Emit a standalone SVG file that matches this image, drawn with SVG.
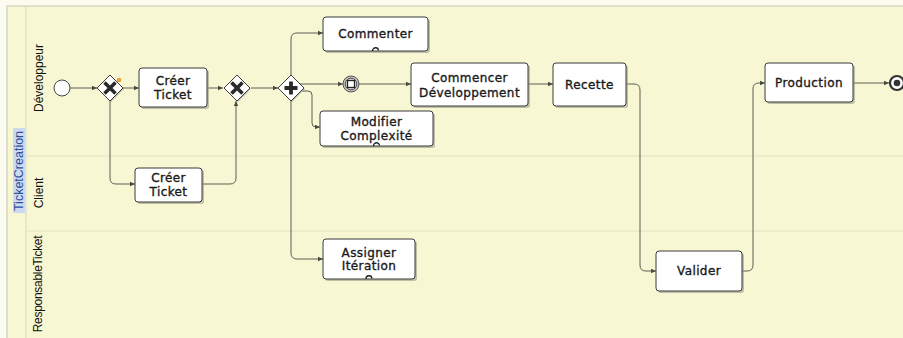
<svg xmlns="http://www.w3.org/2000/svg" width="903" height="338" viewBox="0 0 903 338">
<style>
.task{fill:#fff;stroke:#3a3a3a;stroke-width:1}
.shadow{fill:#9a9a88;opacity:0.6}
.tt{font-family:"DejaVu Sans",sans-serif;font-size:12px;fill:#1a1a1a;stroke:#1a1a1a;stroke-width:0.35;letter-spacing:0.4px;text-anchor:middle}
.lbl{font-family:"Liberation Sans",Arial,sans-serif;font-size:12px;fill:#111}
.flow{fill:none;stroke:#5e5e54;stroke-width:1}
.gw{fill:#fff;stroke:#3a3a3a;stroke-width:1}
.loop{fill:none;stroke:#222;stroke-width:1.3}
</style>
<defs>
<marker id="arr" markerWidth="6" markerHeight="6" refX="5" refY="3" orient="auto" markerUnits="userSpaceOnUse">
<path d="M0,0.8 L5,3 L0,5.2 Z" fill="#4a4a40"/>
</marker>
</defs>
<rect x="0" y="0" width="903" height="338" fill="#fbfbf0"/>
<g id="pool">
<rect x="7" y="6" width="900" height="340" fill="#f7f7d3" stroke="#d8d8c4" stroke-width="1.5"/>
<line x1="26" y1="6" x2="26" y2="338" stroke="#d6d6c0" stroke-width="1"/>
<line x1="26" y1="156" x2="903" y2="156" stroke="#e2e2c6" stroke-width="1"/>
<line x1="26" y1="231" x2="903" y2="231" stroke="#e2e2c6" stroke-width="1"/>
<rect x="13" y="128" width="12" height="85" fill="#cbdaf0"/>
<text transform="translate(23,171) rotate(-90)" text-anchor="middle" font-family="Liberation Sans,Arial,sans-serif" font-size="12.5" fill="#2e4f9a">TicketCreation</text>
<text class="lbl" transform="translate(43,78) rotate(-90)" text-anchor="middle">Développeur</text>
<text class="lbl" transform="translate(43,193) rotate(-90)" text-anchor="middle">Client</text>
<text class="lbl" transform="translate(42,284) rotate(-90)" text-anchor="middle" font-size="10.5" letter-spacing="-0.3">ResponsableTicket</text>
</g>
<g id="connectors">
<path class="flow" d="M70,88 L97,88" marker-end="url(#arr)"/>
<path class="flow" d="M123,88 L139,88" marker-end="url(#arr)"/>
<path class="flow" d="M207,88 L223,88" marker-end="url(#arr)"/>
<path class="flow" d="M251,88 L278,88" marker-end="url(#arr)"/>
<path class="flow" d="M110,101 L110,178 Q110,184 116,184 L135,184" marker-end="url(#arr)"/>
<path class="flow" d="M202,184 L230,184 Q236,184 236,178 L236,101" marker-end="url(#arr)"/>
<path class="flow" d="M291,75 L291,39 Q291,33 297,33 L323,33" marker-end="url(#arr)"/>
<path class="flow" d="M300,84 L343,84" marker-end="url(#arr)"/>
<path class="flow" d="M359,84 L411,84" marker-end="url(#arr)"/>
<path class="flow" d="M302,91 L308,91 Q312,91 312,95 L312,123 Q312,127 316,127 L320,127" marker-end="url(#arr)"/>
<path class="flow" d="M291,101 L291,253 Q291,259 297,259 L323,259" marker-end="url(#arr)"/>
<path class="flow" d="M528,84 L553,84" marker-end="url(#arr)"/>
<path class="flow" d="M626,84 L634,84 Q640,84 640,90 L640,265 Q640,271 646,271 L656,271" marker-end="url(#arr)"/>
<path class="flow" d="M742,271 L747,271 Q753,271 753,265 L753,89 Q753,83 759,83 L765,83" marker-end="url(#arr)"/>
<path class="flow" d="M853,83 L889,83" marker-end="url(#arr)"/>
</g>
<g id="start">
<circle cx="62" cy="88" r="8" fill="#fff" stroke="#444" stroke-width="1"/>
</g>
<g id="gw1">
<path d="M111,76 L124,89 L111,102 L98,89 Z" class="shadow"/>
<path d="M110,75 L123,88 L110,101 L97,88 Z" class="gw"/>
<path d="M104.5,82.5 L115.5,93.5 M115.5,82.5 L104.5,93.5" stroke="#2a2a2a" stroke-width="3.6"/>
<circle cx="119" cy="80" r="2.3" fill="#e8a23a"/>
</g>
<g id="task_creer_dev">
<rect x="141" y="70" width="68" height="39" rx="3" class="shadow"/>
<rect x="139" y="68" width="68" height="39" rx="3" class="task"/>
<text class="tt" x="173" y="85">Créer</text>
<text class="tt" x="173" y="99">Ticket</text>
</g>
<g id="gw2">
<path d="M238,76 L251,89 L238,102 L225,89 Z" class="shadow"/>
<path d="M237,75 L250,88 L237,101 L224,88 Z" class="gw"/>
<path d="M231.5,82.5 L242.5,93.5 M242.5,82.5 L231.5,93.5" stroke="#2a2a2a" stroke-width="3.6"/>
</g>
<g id="task_creer_client">
<rect x="137" y="170" width="67" height="34" rx="3" class="shadow"/>
<rect x="135" y="168" width="67" height="34" rx="3" class="task"/>
<text class="tt" x="168.5" y="182">Créer</text>
<text class="tt" x="168.5" y="196">Ticket</text>
</g>
<g id="gw3">
<path d="M292,76 L305,89 L292,102 L279,89 Z" class="shadow"/>
<path d="M291,75 L304,88 L291,101 L278,88 Z" class="gw"/>
<path d="M291,81.5 L291,94.5 M284.5,88 L297.5,88" stroke="#2a2a2a" stroke-width="3.8"/>
</g>
<g id="task_commenter">
<rect x="325" y="19" width="105" height="34" rx="3" class="shadow"/>
<rect x="323" y="17" width="105" height="34" rx="3" class="task"/>
<text class="tt" x="375.5" y="38">Commenter</text>
<path class="loop" d="M372.5,51 A3,3 0 1 1 378.5,50.5"/>
</g>
<g id="intermediate">
<circle cx="351" cy="84" r="8" fill="#c4c4bc" stroke="#555" stroke-width="1"/>
<circle cx="351" cy="84" r="5.8" fill="#e6e6de" stroke="#555" stroke-width="1"/>
<rect x="347.5" y="80.5" width="7" height="7" fill="#fff" stroke="#222" stroke-width="1.3"/>
</g>
<g id="task_commencer">
<rect x="413" y="65" width="117" height="43" rx="3" class="shadow"/>
<rect x="411" y="63" width="117" height="43" rx="3" class="task"/>
<text class="tt" x="469.5" y="82">Commencer</text>
<text class="tt" x="469.5" y="97">Développement</text>
</g>
<g id="task_recette">
<rect x="555" y="65" width="73" height="43" rx="3" class="shadow"/>
<rect x="553" y="63" width="73" height="43" rx="3" class="task"/>
<text class="tt" x="589.5" y="89">Recette</text>
</g>
<g id="task_modifier">
<rect x="322" y="113" width="113" height="35" rx="3" class="shadow"/>
<rect x="320" y="111" width="113" height="35" rx="3" class="task"/>
<text class="tt" x="376.5" y="126">Modifier</text>
<text class="tt" x="376.5" y="140">Complexité</text>
<path class="loop" d="M373.5,146 A3,3 0 1 1 379.5,145.5"/>
</g>
<g id="task_assigner">
<rect x="325" y="241" width="92" height="40" rx="3" class="shadow"/>
<rect x="323" y="239" width="92" height="40" rx="3" class="task"/>
<text class="tt" x="369" y="257">Assigner</text>
<text class="tt" x="369" y="270">Itération</text>
<path class="loop" d="M366,279 A3,3 0 1 1 372,278.5"/>
</g>
<g id="task_valider">
<rect x="658" y="253" width="86" height="40" rx="3" class="shadow"/>
<rect x="656" y="251" width="86" height="40" rx="3" class="task"/>
<text class="tt" x="699" y="275">Valider</text>
</g>
<g id="task_production">
<rect x="767" y="65" width="88" height="39" rx="3" class="shadow"/>
<rect x="765" y="63" width="88" height="39" rx="3" class="task"/>
<text class="tt" x="809" y="87">Production</text>
</g>
<g id="end">
<circle cx="897" cy="83" r="7" fill="#fff" stroke="#333" stroke-width="2.2"/>
<circle cx="897" cy="83" r="3.3" fill="#333"/>
</g>
</svg>
